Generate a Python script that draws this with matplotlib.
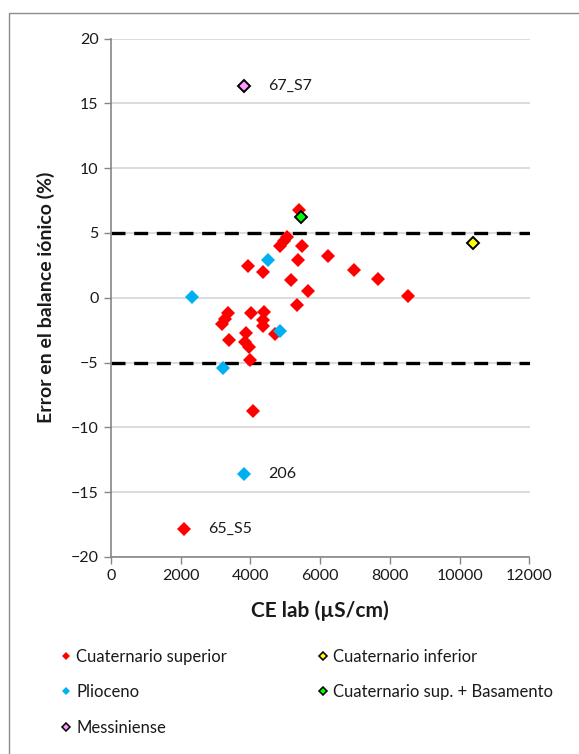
import matplotlib
matplotlib.use("Agg")
import matplotlib.pyplot as plt
from matplotlib.lines import Line2D

plt.rcParams['font.family'] = ['Lato', 'DejaVu Sans']

# ---- data ----
sup_x = [5390, 4850, 4950, 5055, 5470, 5350, 6215, 3920, 4350, 6975, 7665, 5155,
         5655, 8510, 5335, 3365, 3270, 3175, 4015, 4395, 4365, 4365, 4715, 3390,
         3870, 3830, 3965, 3975, 4080, 2095]
sup_y = [6.75, 3.98, 4.36, 4.69, 3.98, 2.90, 3.23, 2.43, 1.95, 2.12, 1.48, 1.35,
         0.50, 0.14, -0.53, -1.17, -1.61, -1.99, -1.20, -1.10, -1.74, -2.16, -2.76, -3.23,
         -2.72, -3.41, -3.78, -4.83, -8.74, -17.82]
plio_x = [2330, 3205, 4510, 4845, 3825]
plio_y = [0.08, -5.41, 2.90, -2.59, -13.58]
inf_x = [10390]
inf_y = [4.23]
bas_x = [5450]
bas_y = [6.24]
mes_x = [3825]
mes_y = [16.36]

labels = ["67_S7", "206", "65_S5"]
label_x = [3825, 3825, 2095]
label_y = [16.36, -13.58, -17.82]

limits_y = [5, -5]
xticks = [0, 2000, 4000, 6000, 8000, 10000, 12000]
yticks = [-20, -15, -10, -5, 0, 5, 10, 15, 20]

W, H = 579, 754
fig = plt.figure(figsize=(W / 100, H / 100), dpi=100)
ax = fig.add_axes([111 / W, 1 - 557 / H, 418.5 / W, 518.5 / H])

grey = '#868686'
for y in yticks:
    ax.axhline(y, color='#d9d9d9', lw=1.3, zorder=0)
for y in limits_y:
    ax.axhline(y, color='black', lw=2.4, dashes=(4.2, 2.6), zorder=1)

ms = 7.2
ax.plot(sup_x, sup_y, 'D', color='#ff0000', ms=ms, mew=0, zorder=3,
        label='Cuaternario superior')
ax.plot(plio_x, plio_y, 'D', color='#00b0f0', ms=ms, mew=0, zorder=4, label='Plioceno')
ax.plot(mes_x, mes_y, 'D', mfc='#ff99ff', mec='black', ms=6.6, mew=1.4, zorder=5,
        label='Messiniense')
ax.plot(inf_x, inf_y, 'D', mfc='#ffff00', mec='black', ms=6.6, mew=1.4, zorder=5,
        label='Cuaternario inferior')
ax.plot(bas_x, bas_y, 'D', mfc='#00ff00', mec='black', ms=6.6, mew=1.4, zorder=5,
        label='Cuaternario sup. + Basamento')

for t, x, y in zip(labels, label_x, label_y):
    ax.annotate(t, (x, y), xytext=(17, 0), textcoords='offset points',
                va='center', ha='left', fontsize=11.5, color='#1a1a1a')

ax.set_xlim(0, 12000)
ax.set_ylim(-20, 20)
ax.set_xticks(xticks)
ax.set_yticks(yticks)
ax.tick_params(direction='out', length=5, width=1, color=grey, labelsize=11.5,
               labelcolor='#1a1a1a', pad=4)
for s in ['top', 'right']:
    ax.spines[s].set_visible(False)
for s in ['left', 'bottom']:
    ax.spines[s].set_color(grey)
    ax.spines[s].set_linewidth(1.2)

ax.set_xlabel('CE lab (µS/cm)', fontsize=15, fontweight='bold', labelpad=12,
              color='#1a1a1a')
ax.set_ylabel('Error en el balance iónico (%)', fontsize=14, fontweight='bold',
              labelpad=11, color='#1a1a1a')

handles, labs = ax.get_legend_handles_labels()
order = [0, 1, 2, 3, 4]
hl = []
for h in handles:
    hl.append(Line2D([], [], marker='D', linestyle='none', ms=4.2,
                     mfc=h.get_markerfacecolor(), mec=h.get_markeredgecolor(),
                     mew=h.get_markeredgewidth() * 0.8))
leg = fig.legend([hl[i] for i in order], [labs[i] for i in order], ncol=2,
                 loc='upper left', bbox_to_anchor=(61 / W, 1 - 649 / H),
                 frameon=False, fontsize=12, handlelength=0.6, handletextpad=0.3,
                 columnspacing=5.45, labelspacing=1.16, borderaxespad=0,
                 borderpad=0)
for t in leg.get_texts():
    t.set_color('#1a1a1a')

# outer chart frame (cropped)
fig.add_artist(Line2D([9 / W, 9 / W, 1], [0, 1 - 12.5 / H, 1 - 12.5 / H],
                      transform=fig.transFigure, color='#8c8c8c', lw=1.0))

fig.savefig('out.png', dpi=100)
